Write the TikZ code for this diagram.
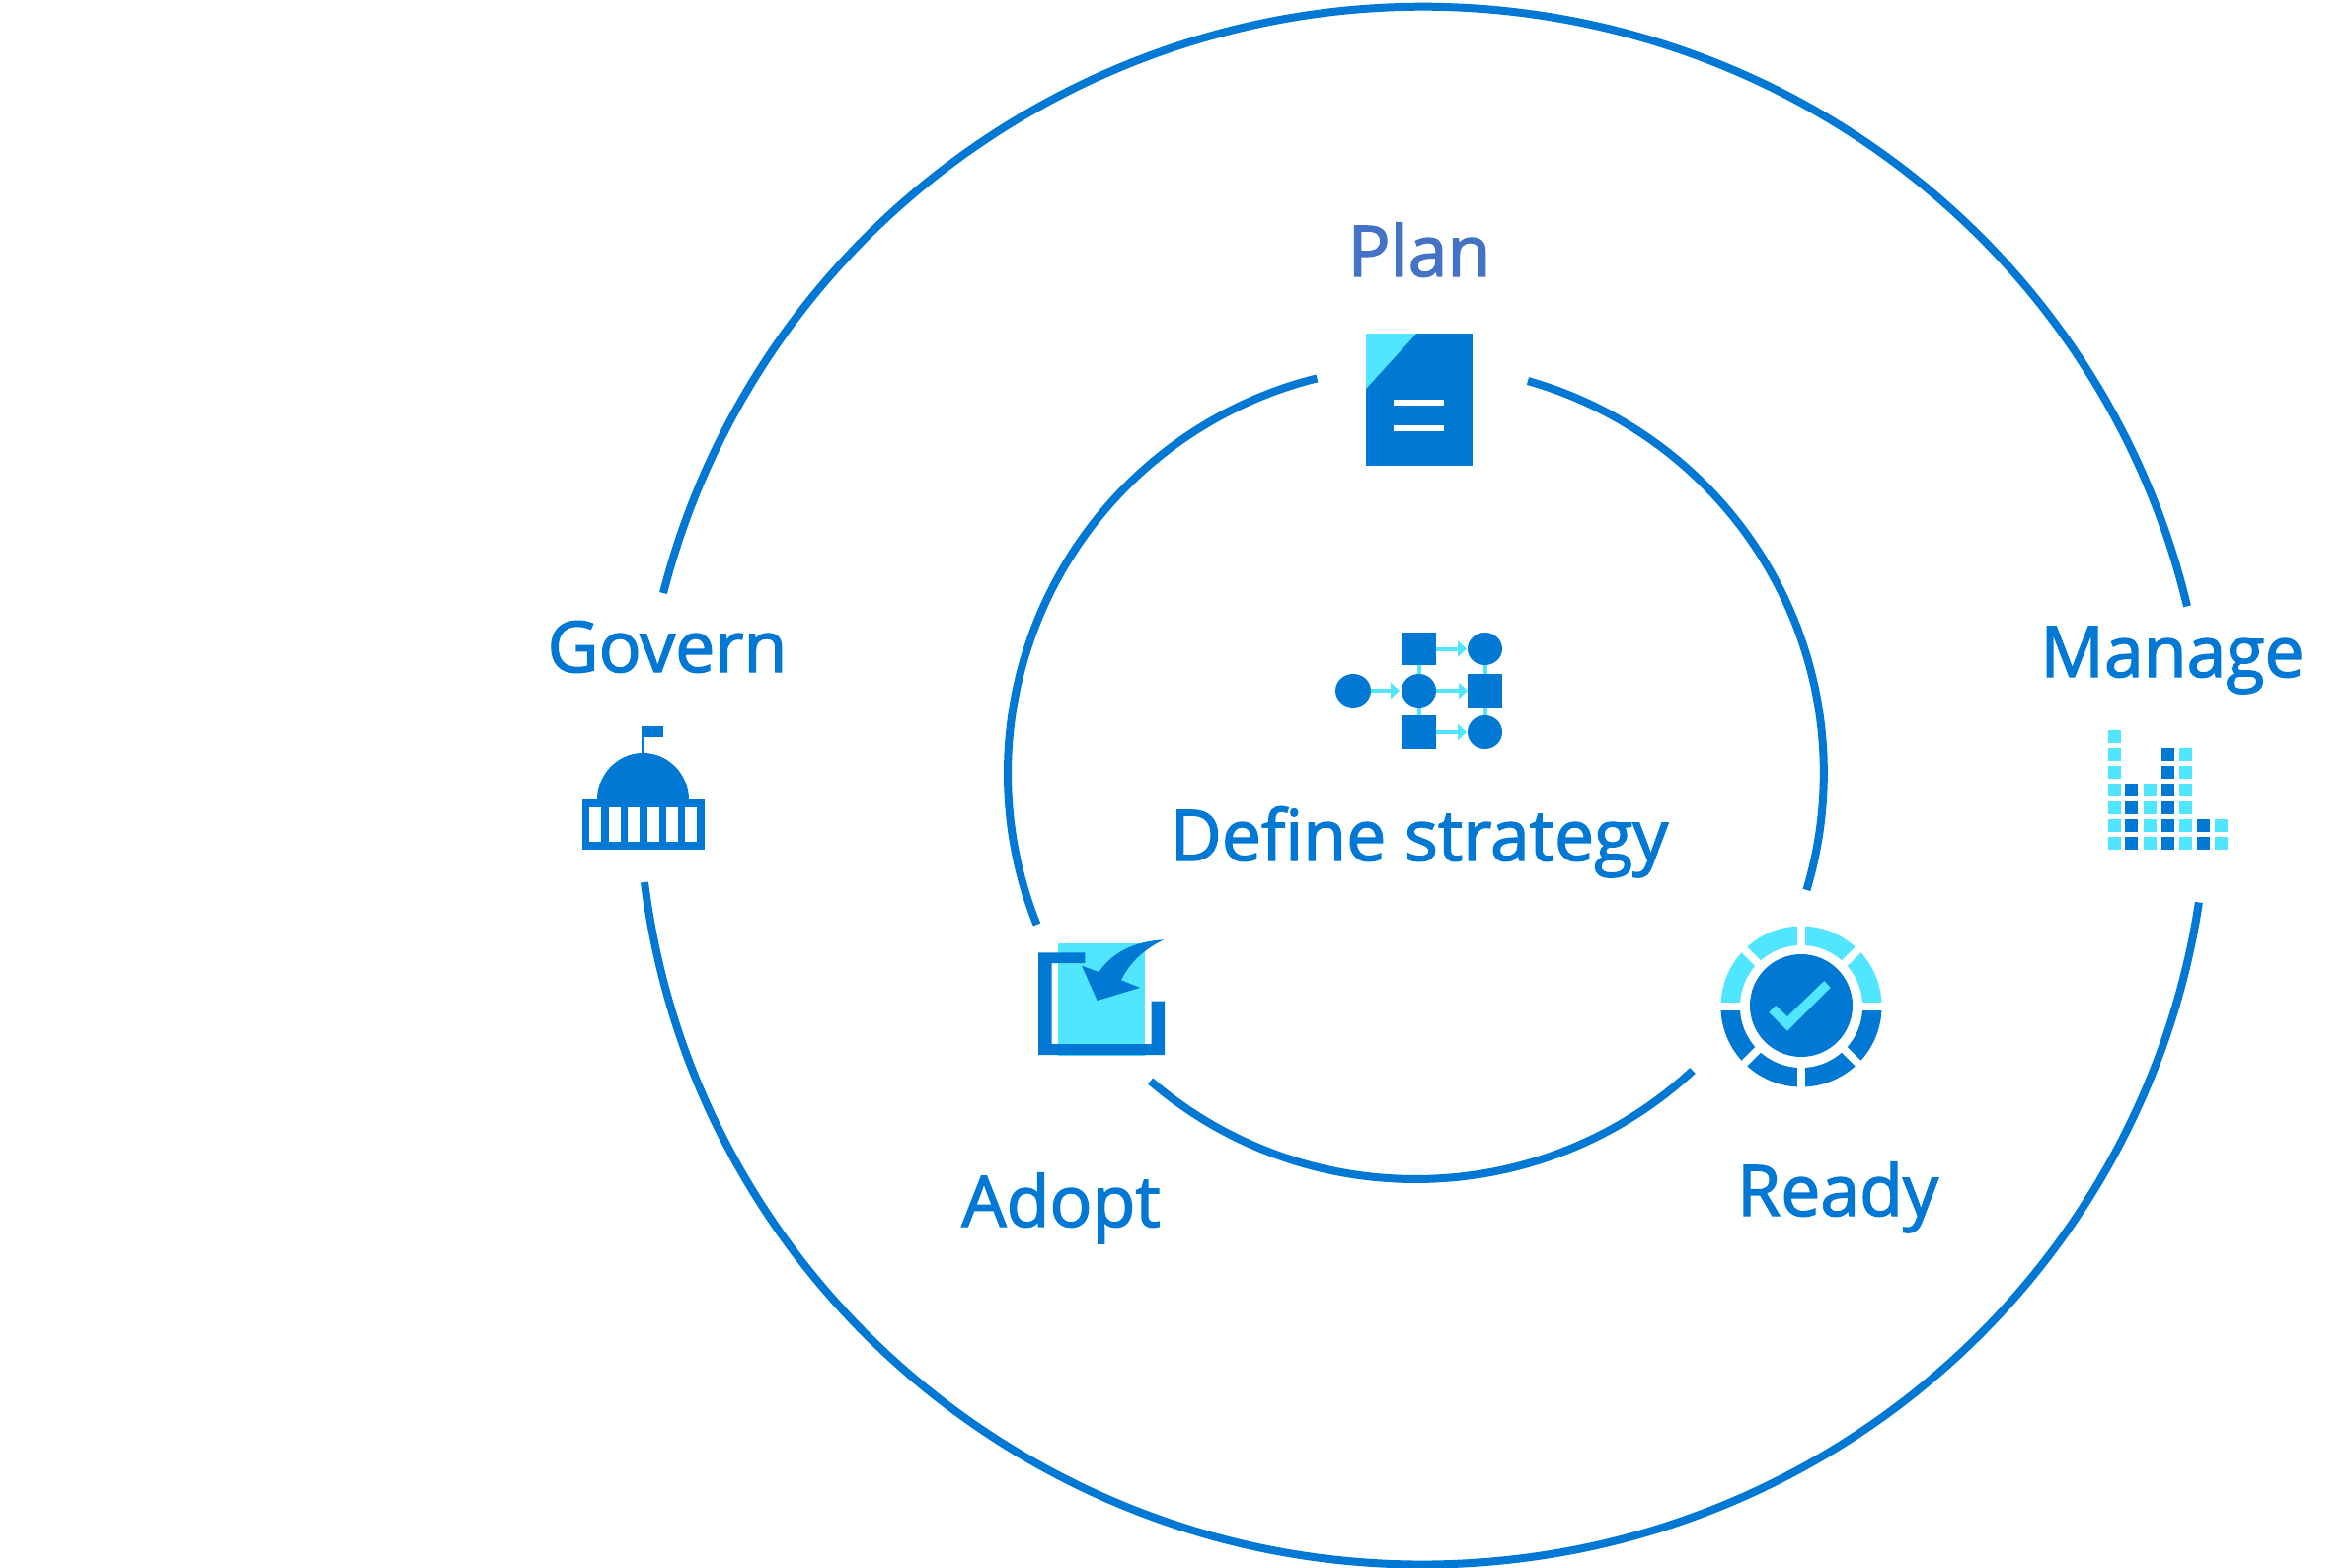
\documentclass[tikz,border=0pt]{standalone}
\usepackage{fontspec}
\newfontfamily\labfont[FakeBold=2]{Open Sans}
\definecolor{az}{HTML}{0078D4}
\definecolor{azl}{HTML}{50E6FF}
\definecolor{pl}{HTML}{4472C4}
\definecolor{azd}{HTML}{0F6CC4}
\tikzset{
  ringline/.style={draw=az,line width=8pt,line cap=butt},
  lab/.style={text=az,font=\labfont\fontsize{71.5}{72}\selectfont,anchor=base,inner sep=0pt},
  darkfill/.style={fill=az,draw=none},
  lightfill/.style={fill=azl,draw=none},
  whitefill/.style={fill=white,draw=none},
  flowarrow/.style={draw=azl,line width=4pt,-{Triangle[length=9pt,width=16pt]}},
  flowlink/.style={draw=azl,line width=4pt},
}
\usetikzlibrary{arrows.meta}
\begin{document}
\begin{tikzpicture}[x=1pt,y=-1pt]
\useasboundingbox (0,0) rectangle (2380,1589);
\fill[white] (0,0) rectangle (2380,1589);
% outer ring
\draw[ringline] (672,601) arc[start angle=-165.7,end angle=-13.3,x radius=795,y radius=789];
\draw[ringline] (653,894) arc[start angle=172.9,end angle=8.6,x radius=795,y radius=789];
% inner ring
\draw[ringline] (1050.5,937) arc[start angle=158.2,end angle=256.1,radius=412.5];
\draw[ringline] (1548,386) arc[start angle=-74.1,end angle=16.7,radius=413];
\draw[ringline] (1715,1085) arc[start angle=47.2,end angle=130.6,radius=413];
% labels
\node[lab,text=pl] (plan) at (1438,280) {Plan};
\node[lab] (govern) at (676,681) {Govern};
\node[lab] (manage) at (2201,686) {Manage};
\node[lab] (define) at (1438,872) {Define strategy};
\node[lab] (adopt) at (1075,1243) {Adopt};
\node[lab] (ready) at (1862,1232) {Ready};
% plan icon
\fill[darkfill] (1384,338) rectangle (1492,472);
\fill[lightfill] (1384,338) -- (1435,338) -- (1384,394) -- cycle;
\fill[whitefill] (1412,405) rectangle (1463,411);
\fill[whitefill] (1412,431) rectangle (1463,437);
% strategy icon
\coordinate (s1) at (1371,700);
\coordinate (s2) at (1437.5,700);
\coordinate (s3) at (1504.5,700);
\draw[flowlink] (1437.5,658) -- (1437.5,742);
\draw[flowlink] (1504.5,658) -- (1504.5,742);
\draw[flowarrow] (1389,700) -- (1418,700);
\draw[flowarrow] (1455,700) -- (1487,700);
\draw[flowarrow] (1455,657.5) -- (1486,657.5);
\draw[flowarrow] (1455,742) -- (1486,742);
\fill[darkfill] (s1) ellipse[x radius=18,y radius=17];
\fill[darkfill] (s2) ellipse[x radius=17.5,y radius=17];
\fill[darkfill] (1420,641) rectangle (1455,674);
\fill[darkfill] (1420,725) rectangle (1455,759);
\fill[darkfill] (1504.5,657.5) ellipse[x radius=17.5,y radius=16.5];
\fill[darkfill] (1487,683) rectangle (1522,717);
\fill[darkfill] (1504.5,742) ellipse[x radius=17.5,y radius=17];
% govern icon
\fill[darkfill] (650,736) rectangle (653,765);
\fill[darkfill] (650,736) rectangle (672,747);
\fill[darkfill] (605,811) arc[start angle=180,end angle=360,x radius=46.5,y radius=48] -- cycle;
\fill[darkfill] (590,810) rectangle (714,861);
\foreach \wx in {597,617,636,656,675,694} \fill[whitefill] (\wx,818) rectangle ++(12,35);
% manage icon
\foreach \cx/\rows/\colr in {2136/1/azl,2153/4/az,2172/4/azl,2190/2/az,2208/2/azl,2226/6/az,2244/6/azl}{
  \foreach \ry in {1,...,7}{
    \ifnum\ry<\rows\relax\else
      \pgfmathsetmacro{\yy}{740+18*(\ry-1)}
      \fill[\colr] (\cx,\yy) rectangle ++(13,13);
    \fi
  }
}
% adopt icon
\fill[lightfill] (1072,956) rectangle (1160,1070);
\fill[darkfill] (1052,965.3) -- (1099.3,965.3) -- (1099.3,976) -- (1065.7,976) -- (1065.7,1058) -- (1166.7,1058) -- (1166.7,1014.7) -- (1180,1014.7) -- (1180,1069) -- (1052,1069) -- cycle;
\fill[darkfill] (1179.3,952.3) .. controls (1150,954) and (1128,964) .. (1113.3,985) -- (1096,978.7) -- (1111.7,1014) -- (1155,1001) -- (1136,993.3) .. controls (1144,976) and (1160,961) .. (1179.3,952.3) -- cycle;
% ready icon
\coordinate (rc) at (1825,1019);
\coordinate (rr) at (1825,1020);
\begin{scope}
\clip (1725,919) rectangle (1925,1020);
\fill[lightfill] (rr) circle[radius=81.5];
\end{scope}
\begin{scope}
\clip (1725,1020) rectangle (1925,1120);
\fill[darkfill] (rr) circle[radius=81.5];
\end{scope}
\fill[whitefill] (rr) circle[radius=62];
\draw[white,line width=8.5pt] (1735,1020) -- (1915,1020);
\draw[white,line width=8pt] (1825,930) -- (1825,1110);
\draw[white,line width=8pt] (1761,956) -- (1889,1084);
\draw[white,line width=8pt] (1761,1084) -- (1889,956);
\fill[darkfill] (rc) circle[radius=52];
\fill[lightfill] (1792.3,1026) -- (1799,1019) -- (1811,1030) -- (1848.3,994) -- (1854.7,1001) -- (1811,1044.7) -- cycle;
\end{tikzpicture}
\end{document}
